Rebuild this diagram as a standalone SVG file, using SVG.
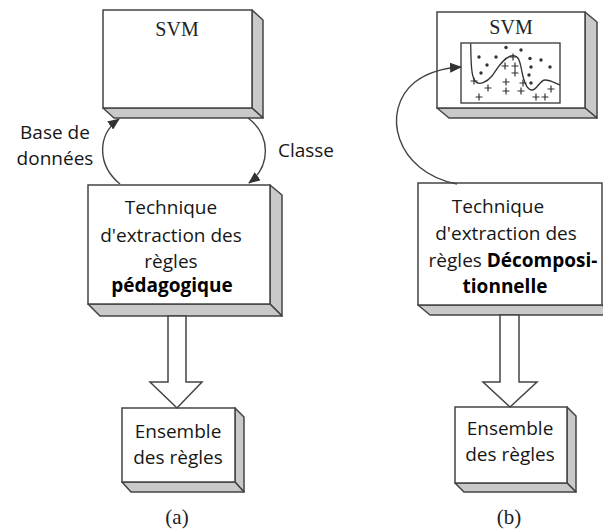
<svg xmlns="http://www.w3.org/2000/svg" width="603" height="529" viewBox="0 0 603 529">
<style>
.front{fill:#fff;stroke:#444;stroke-width:1.5}
.side{fill:#c9c9c9;stroke:#444;stroke-width:1.5;stroke-linejoin:round}
.t{font-family:"Open Sans","Liberation Sans",sans-serif;font-size:19px;fill:#161616;text-anchor:middle}
.b{font-weight:bold;fill:#000}
.s{font-family:"Liberation Serif",serif;font-size:20px;fill:#222;text-anchor:middle}
.cap{font-family:"Liberation Serif",serif;font-size:21px;fill:#222;text-anchor:middle}
.conn{fill:none;stroke:#444;stroke-width:1.4}
.hollow{fill:#fff;stroke:#444;stroke-width:1.5;stroke-linejoin:miter}
.plot{fill:none;stroke:#333;stroke-width:1.3}
.dot{fill:#333}
.plus{stroke:#333;stroke-width:1.2}
</style>
<defs>
<marker id="ah" viewBox="0 0 12 10" refX="11" refY="5" markerWidth="12" markerHeight="10" markerUnits="userSpaceOnUse" orient="auto">
<path d="M0,0 L12,5 L0,10 Z" fill="#333"/>
</marker>
<path id="pl" d="M-3.5,0 H3.5 M0,-3.5 V3.5"/>
</defs>

<g id="svm-a">
<polygon class="side" points="252,10 263,20 263,118 252,108"/>
<polygon class="side" points="103,108 252,108 263,118 114,118"/>
<rect class="front" x="103" y="10" width="149" height="98"/>
<text class="s" x="177" y="36">SVM</text>
</g>

<g id="tech-a">
<polygon class="side" points="270,185 282,195 282,316 270,304"/>
<polygon class="side" points="88,304 270,304 282,316 100,316"/>
<rect class="front" x="88" y="185" width="182" height="119"/>
<text class="t" x="171" y="214">Technique</text>
<text class="t" x="171" y="242">d'extraction des</text>
<text class="t" x="171" y="268">règles</text>
<text class="t b" x="172" y="292">pédagogique</text>
</g>

<g id="ens-a">
<polygon class="side" points="235,408 244,417 244,492 235,482"/>
<polygon class="side" points="122,482 235,482 244,492 131,492"/>
<rect class="front" x="122" y="408" width="113" height="74"/>
<text class="t" x="178" y="438">Ensemble</text>
<text class="t" x="178" y="464">des règles</text>
</g>

<g id="svm-b">
<polygon class="side" points="585,12 597,22 597,118 585,108"/>
<polygon class="side" points="437,108 585,108 597,118 449,118"/>
<rect class="front" x="437" y="12" width="148" height="96"/>
<text class="s" x="511" y="34">SVM</text>
<rect class="plot" x="461" y="43" width="99" height="60"/>
<path class="plot" d="M470.7,43.5 C471,60 471,76 475,81 C479,86 487,82 492,76 C497,69 503,58 511,56 C519,54 520,62 522,72 C524,82 527,90 532,90 C537,90 540,80 545,80 C550,80 555,83 560,85"/>
<g class="dot">
<circle cx="506" cy="47.5" r="1.7"/><circle cx="521" cy="50" r="1.7"/><circle cx="479" cy="57" r="1.7"/>
<circle cx="496" cy="57" r="1.7"/><circle cx="530" cy="58.5" r="1.7"/><circle cx="541" cy="60" r="1.7"/>
<circle cx="487" cy="65" r="1.7"/><circle cx="531" cy="67" r="1.7"/><circle cx="550" cy="67" r="1.7"/>
<circle cx="481" cy="73" r="1.7"/><circle cx="529" cy="75" r="1.7"/><circle cx="531" cy="83" r="1.7"/>
</g>
<g class="plus">
<use href="#pl" x="513" y="57"/><use href="#pl" x="505" y="66"/><use href="#pl" x="515" y="66"/>
<use href="#pl" x="515" y="73"/><use href="#pl" x="474" y="81"/><use href="#pl" x="506" y="82"/>
<use href="#pl" x="523" y="83"/><use href="#pl" x="488" y="88"/><use href="#pl" x="506" y="91"/>
<use href="#pl" x="521" y="91"/><use href="#pl" x="551" y="89"/><use href="#pl" x="479" y="97"/>
<use href="#pl" x="536" y="97"/><use href="#pl" x="545" y="97"/>
</g>
</g>

<g id="tech-b">
<polygon class="side" points="418,305 602,305 614,315 430,315"/>
<rect class="front" x="418" y="183" width="184" height="122"/>
<text class="t" x="498" y="213">Technique</text>
<text class="t" x="506" y="240">d'extraction des</text>
<text class="t" x="513" y="267">règles <tspan class="b">Décomposi-</tspan></text>
<text class="t b" x="505" y="293">tionnelle</text>
</g>

<g id="ens-b">
<polygon class="side" points="567,407 576,416 576,492 567,483"/>
<polygon class="side" points="455,483 567,483 576,492 464,492"/>
<rect class="front" x="455" y="407" width="112" height="76"/>
<text class="t" x="510" y="435">Ensemble</text>
<text class="t" x="510" y="461">des règles</text>
</g>

<g id="connectors">
<path class="conn" d="M120,184 C98,166 96,136 119,119" marker-end="url(#ah)"/>
<path class="conn" d="M248,118 C271,135 271,166 249,183" marker-end="url(#ah)"/>
<path class="conn" d="M457,184 C395,172 380,110 415,82 C428,72 444,68 461,67" marker-end="url(#ah)"/>
<polygon class="hollow" points="168,316 186,316 186,382 202,382 177,408 150,382 168,382"/>
<polygon class="hollow" points="500,315 519,315 519,382 537,382 510,407 483,382 500,382"/>
</g>

<g id="labels">
<text class="t" x="55" y="139">Base de</text>
<text class="t" x="55" y="165">données</text>
<text class="t" x="306" y="157">Classe</text>
<text class="cap" x="177" y="524">(a)</text>
<text class="cap" x="509" y="524">(b)</text>
</g>
</svg>
